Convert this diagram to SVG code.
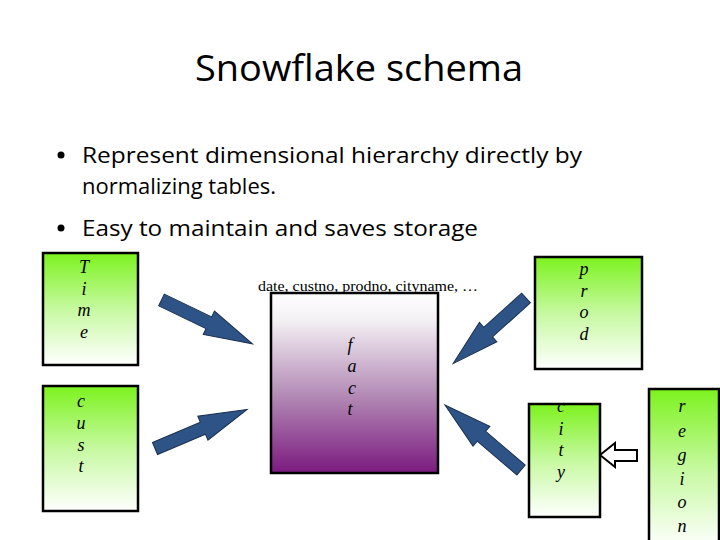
<svg xmlns="http://www.w3.org/2000/svg" width="720" height="540" viewBox="0 0 720 540">
<style>
.title{font-family:"Open Sans","Liberation Sans",sans-serif;font-size:36px;fill:#000}
.bul{font-family:"Open Sans","Liberation Sans",sans-serif;font-size:22px;fill:#000}
.lt{font-family:"Liberation Serif","DejaVu Serif",serif;font-style:italic;font-size:18px;fill:#000;text-anchor:middle}
.hdr{font-family:"Liberation Serif","DejaVu Serif",serif;font-size:14px;fill:#000}
.dim{fill:url(#green);stroke:#000;stroke-width:2.5}
.fact{fill:url(#purple);stroke:#000;stroke-width:2.5}
.blk{fill:#2E5487;stroke:#1B3050;stroke-width:1}
.out{fill:#fff;stroke:#000;stroke-width:2}
</style>
<defs>
<linearGradient id="green" x1="0" y1="0" x2="0" y2="1">
<stop offset="0" stop-color="#7CF21E"/>
<stop offset="0.5" stop-color="#C6F9A0"/>
<stop offset="1" stop-color="#FFFFFF"/>
</linearGradient>
<linearGradient id="purple" x1="0" y1="0" x2="0" y2="1">
<stop offset="0" stop-color="#FFFFFF"/>
<stop offset="0.15" stop-color="#F4F0F4"/>
<stop offset="0.55" stop-color="#B58FB8"/>
<stop offset="1" stop-color="#7B1A7E"/>
</linearGradient>
<polygon id="blockArrow" points="0,-6.5 52,-6.5 52,-13 100,0 52,13 52,6.5 0,6.5"/>
</defs>
<rect width="720" height="540" fill="#fff"/>
<text class="title" x="359" y="81" text-anchor="middle" textLength="328" lengthAdjust="spacingAndGlyphs">Snowflake schema</text>
<circle cx="61" cy="155" r="3.5" fill="#000"/>
<text class="bul" x="82" y="163" textLength="500" lengthAdjust="spacingAndGlyphs">Represent dimensional hierarchy directly by</text>
<text class="bul" x="82" y="194" textLength="194" lengthAdjust="spacingAndGlyphs">normalizing tables.</text>
<circle cx="61" cy="228" r="3.5" fill="#000"/>
<text class="bul" x="82" y="236" textLength="396" lengthAdjust="spacingAndGlyphs">Easy to maintain and saves storage</text>

<g id="connectors">
<use href="#blockArrow" class="blk" transform="translate(161.5,300) rotate(25.7) scale(1.01,1)"/>
<use href="#blockArrow" class="blk" transform="translate(155,448.5) rotate(-23) scale(1,1)"/>
<use href="#blockArrow" class="blk" transform="translate(526,298) rotate(138) scale(0.98,1)"/>
<use href="#blockArrow" class="blk" transform="translate(521,470) rotate(220.5) scale(1,1)"/>
<polygon class="out" points="600,455 615,443 615,450 637,450 637,461 615,461 615,467"/>
</g>

<g id="time">
<rect class="dim" x="43" y="253" width="95" height="112"/>
<text class="lt" x="84" y="273">T</text>
<text class="lt" x="84" y="295">i</text>
<text class="lt" x="84" y="316">m</text>
<text class="lt" x="84" y="338">e</text>
</g>
<g id="cust">
<rect class="dim" x="43" y="386" width="95" height="125"/>
<text class="lt" x="81" y="407">c</text>
<text class="lt" x="81" y="429">u</text>
<text class="lt" x="81" y="451">s</text>
<text class="lt" x="81" y="472">t</text>
</g>
<g id="fact">
<text class="hdr" x="258" y="291" textLength="220" lengthAdjust="spacingAndGlyphs">date, custno, prodno, cityname,  …</text>
<rect class="fact" x="271" y="293" width="167" height="180"/>
<text class="lt" x="350" y="351">f</text>
<text class="lt" x="352" y="372">a</text>
<text class="lt" x="352" y="394">c</text>
<text class="lt" x="350" y="415">t</text>
</g>
<g id="prod">
<rect class="dim" x="535" y="257" width="107" height="112"/>
<text class="lt" x="584" y="275">p</text>
<text class="lt" x="584" y="297">r</text>
<text class="lt" x="584" y="318">o</text>
<text class="lt" x="584" y="340">d</text>
</g>
<g id="city">
<rect class="dim" x="529" y="404" width="71" height="113"/>
<text class="lt" x="561" y="412">c</text>
<text class="lt" x="561" y="435">i</text>
<text class="lt" x="561" y="456">t</text>
<text class="lt" x="561" y="478">y</text>
</g>
<g id="region">
<rect class="dim" x="649" y="389" width="70" height="160"/>
<text class="lt" x="682" y="412">r</text>
<text class="lt" x="682" y="437">e</text>
<text class="lt" x="682" y="461">g</text>
<text class="lt" x="682" y="485">i</text>
<text class="lt" x="682" y="508">o</text>
<text class="lt" x="682" y="532">n</text>
</g>
</svg>
